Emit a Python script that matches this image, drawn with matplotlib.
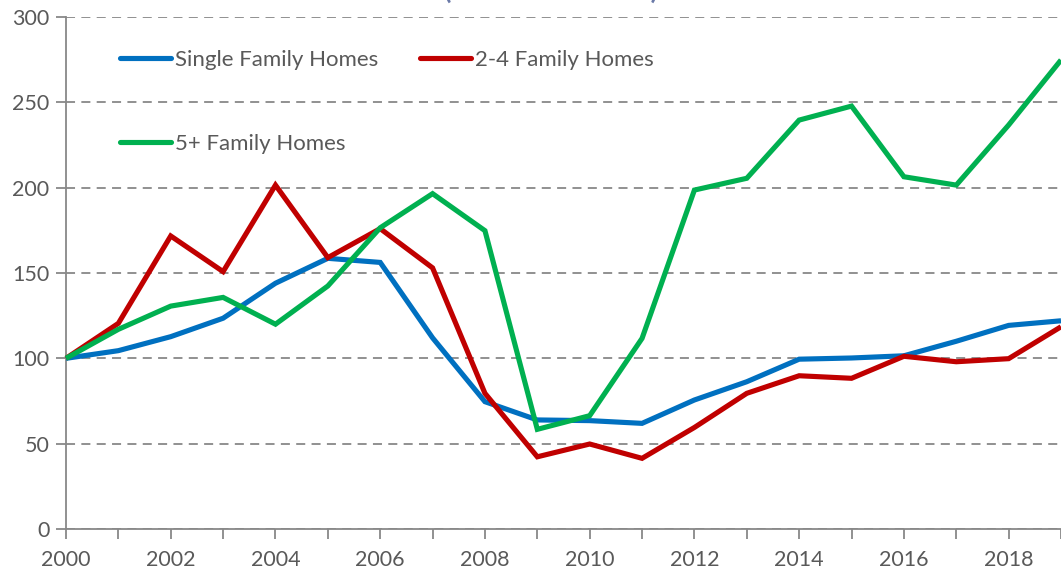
import matplotlib
matplotlib.use("Agg")
import matplotlib.pyplot as plt

years = list(range(2000, 2020))
single_family = [100, 104.5, 112.7, 123.5, 144, 158.6, 156.2, 112, 74.6, 63.9,
                 63.5, 61.9, 75.6, 86.3, 99.5, 100.2, 101.5, 110, 119.3, 122]
two_four_family = [100, 120.5, 171.7, 150.8, 201.5, 159, 176, 153, 79.5, 42.3,
                   49.8, 41.4, 59.5, 79.5, 89.8, 88.3, 101.2, 98, 99.8, 118.5]
five_plus_family = [100, 117, 130.6, 135.7, 120, 142.4, 176.5, 196.5, 174.8, 58.4,
                    66.4, 111.7, 198.6, 205.5, 239.6, 247.8, 206.4, 201.5, 236.7, 274.8]
series_labels = ["Single Family Homes", "2-4 Family Homes", "5+ Family Homes"]
colors = ["#0070C0", "#C00000", "#00B050"]
y_ticks = [0, 50, 100, 150, 200, 250, 300]
x_labels = list(range(2000, 2020, 2))

plt.rcParams['font.family'] = ['Lato', 'DejaVu Sans']

fig = plt.figure(figsize=(10.61, 5.75), dpi=100)
ax = fig.add_axes([66/1061, 46/575, 1 - 66/1061, 512/575])

handles = []
for vals, lab, c in zip([single_family, two_four_family, five_plus_family], series_labels, colors):
    h, = ax.plot(years, vals, color=c, lw=3.7, label=lab, solid_joinstyle='miter',
                 solid_capstyle='butt', zorder=3, clip_on=False)
    handles.append(h)

ax.set_xlim(2000, 2019)
ax.set_ylim(0, 300)
ax.set_yticks(y_ticks)
ax.set_xticks(years)
ax.set_xticklabels([str(y) if y in x_labels else "" for y in years])

for s in ["top", "right"]:
    ax.spines[s].set_visible(False)
for s in ["left", "bottom"]:
    ax.spines[s].set_color("#888888")
    ax.spines[s].set_linewidth(1.3)

ax.tick_params(axis='both', direction='out', length=7, width=1.3, color='#888888',
               labelcolor='#595959', labelsize=15.5)
ax.tick_params(axis='x', pad=8)
ax.tick_params(axis='y', pad=5)

ax.yaxis.grid(True, color='#888888', lw=1.3, linestyle=(0, (5, 3.5)))
ax.set_axisbelow(True)

order = [handles[0], handles[2], handles[1]]
leg = ax.legend(order, [h.get_label() for h in order], ncol=2, frameon=False,
                loc='upper left', bbox_to_anchor=(0.043, 0.958), borderpad=0,
                handlelength=2.3, handletextpad=0.2, columnspacing=1.85,
                labelspacing=2.9, fontsize=16)
for t in leg.get_texts():
    t.set_color('#595959')
for lh in leg.get_lines():
    lh.set_linewidth(3.7)
    lh.set_solid_capstyle('round')

fig.text(551/1061, 1.0025, "(Index 2000=100)", ha='center', va='baseline',
         fontsize=19.5, fontweight='bold', color='#6B7AA8')

fig.savefig("out.png", dpi=100)
